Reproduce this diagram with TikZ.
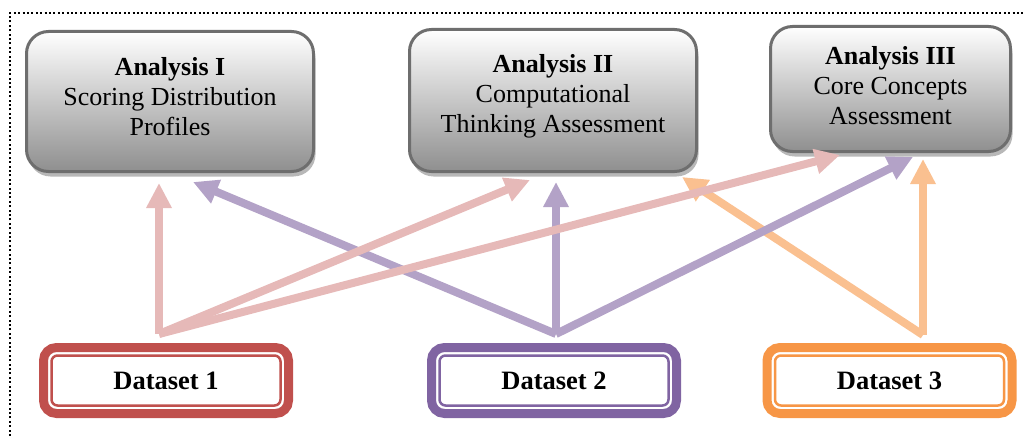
\documentclass[tikz,border=0pt]{standalone}
\usepackage{fontspec}
\setmainfont{Liberation Serif}
\usetikzlibrary{arrows.meta,shadows}
\definecolor{pinkA}{HTML}{E6B9B8}
\definecolor{lavA}{HTML}{B3A2C7}
\definecolor{peachA}{HTML}{FAC090}
\definecolor{redD}{HTML}{C0504D}
\definecolor{purD}{HTML}{8064A2}
\definecolor{oraD}{HTML}{F79646}
\definecolor{boxborder}{HTML}{6E6E6E}
\begin{document}
\begin{tikzpicture}[x=1pt,y=-1pt,
  abox/.style={draw=boxborder,line width=3pt,rounded corners=22pt,top color=white,bottom color=black!44,
    outer sep=0pt,inner sep=0pt,
    drop shadow={shadow xshift=2pt,shadow yshift=-5pt,fill=black!28,opacity=1}},
  atext/.style={font=\fontsize{26}{30}\selectfont,align=center,inner sep=0pt},
  dbox/.style={line width=9pt,rounded corners=13pt,fill=white,outer sep=0pt,inner sep=0pt,
    minimum width=245pt,minimum height=66pt,font=\fontsize{26.5}{30}\selectfont\bfseries},
  dinner/.style={line width=2.5pt,rounded corners=6pt},
  conn/.style={line width=8pt,-{Triangle[width=24pt,length=25pt]}},
  frame/.style={line width=2pt,dash pattern=on 2pt off 2.4pt}
]
\useasboundingbox (0,0) rectangle (1023,436);
% dotted frame
\draw[frame] (10,436) -- (10,13) -- (1023,13);

% analysis boxes
\node[abox,minimum width=287pt,minimum height=140pt] (a1) at (170,101.5) {};
\node[abox,minimum width=287pt,minimum height=142pt] (a2) at (553,100.5) {};
\node[abox,minimum width=240pt,minimum height=125pt] (a3) at (890.5,89) {};
\node[atext] (a1t) at (170,97) {\textbf{Analysis I}\\Scoring Distribution\\Profiles};
\node[atext] (a2t) at (553,96) {\textbf{Analysis II}\\Computational\\Thinking Assessment};
\node[atext] (a3t) at (890.5,86) {\textbf{Analysis III}\\Core Concepts\\Assessment};

% dataset boxes
\node[dbox,draw=redD] (d1) at (166,380.5) {Dataset 1};
\node[dbox,draw=purD] (d2) at (554,380.5) {Dataset 2};
\node[dbox,draw=oraD] (d3) at (889.5,380.5) {Dataset 3};
\foreach \d/\c in {d1/redD,d2/purD,d3/oraD}{
  \draw[dinner,\c] ([shift={(8,8)}]\d.north west) rectangle ([shift={(-8,-8)}]\d.south east);
}

% connector end points
\coordinate (s1) at (159,334);
\coordinate (s2) at (556,334);
\coordinate (s3) at (923,335);
\coordinate (t11) at (159,183);
\coordinate (t12) at (530,180);
\coordinate (t13) at (840,155);
\coordinate (t21) at (193,182);
\coordinate (t22) at (556,182);
\coordinate (t23) at (913,157);
\coordinate (t32) at (682,177);
\coordinate (t33) at (923,159);

% connectors
\draw[conn,peachA] (s3) -- (t32);
\draw[conn,peachA] (s3) -- (t33);
\draw[conn,lavA] (s2) -- (t21);
\draw[conn,lavA] (s2) -- (t22);
\draw[conn,lavA] (s2) -- (t23);
\draw[conn,pinkA] (s1) -- (t11);
\draw[conn,pinkA] (s1) -- (t12);
\draw[conn,pinkA] (s1) -- (t13);
\end{tikzpicture}
\end{document}
